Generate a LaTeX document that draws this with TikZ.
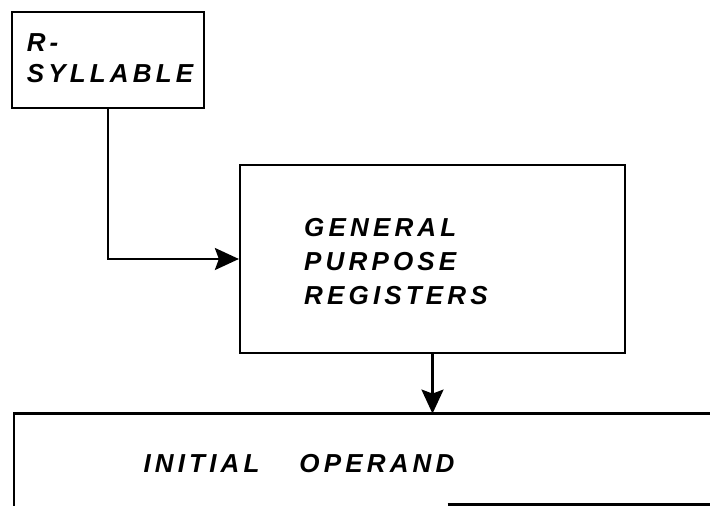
\documentclass[tikz,border=0pt]{standalone}
\usepackage{fontspec}
\newfontfamily\handfont[LetterSpace=16]{Liberation Sans}
\usetikzlibrary{arrows.meta}

\begin{document}
\begin{tikzpicture}
    [x=0.5pt,y=-0.5pt,
     box/.style={draw,line width=1.1pt,inner sep=0pt},
     hand/.style={font=\fontsize{13}{17}\selectfont\handfont\bfseries\itshape,align=left,inner sep=0pt},
     flow/.style={line width=1.2pt,-{Stealth[length=12pt,width=11pt,inset=2pt]}}]
    \useasboundingbox (0,0) rectangle (710,506);
    \clip (0,0) rectangle (710,506);
    % boxes
    \node[box,minimum width=96pt,minimum height=48pt] (syll) at (108,60) {};
    \node[box,minimum width=192.5pt,minimum height=94pt] (regs) at (432.5,259) {};
    \node[inner sep=0pt,minimum width=373pt,minimum height=45pt] (operand) at (387,459) {};
    \draw[line width=1.1pt] (operand.north east) -- (operand.north west) -- ([yshift=-2pt]operand.south west);
    \draw[line width=1.1pt] ([xshift=217pt]operand.south west) -- (operand.south east);
    % texts
    \node[hand] (syllText) at (110,58) {R-\\[-1.5pt]SYLLABLE};
    \node[hand] (regsText) at (396,262) {GENERAL\\PURPOSE\\REGISTERS};
    \node[hand] (operandText) at (299,464) {INITIAL\hspace{20pt}OPERAND};
    % connectors
    \draw[flow] (syll.south) |- (regs.west);
    \draw[flow] (regs.south) -- (regs.south |- operand.north);
\end{tikzpicture}
\end{document}
